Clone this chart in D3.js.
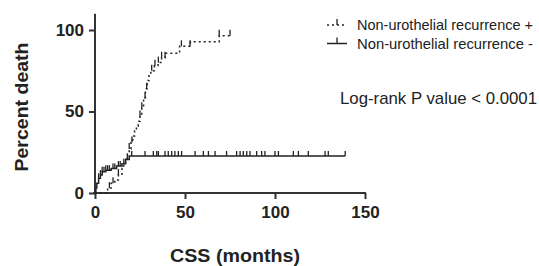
<!DOCTYPE html>
<html><head><meta charset="utf-8">
<script src="https://cdn.jsdelivr.net/npm/d3@7"></script>
<style>body{margin:0;background:#fff}svg{display:block}text{font-family:"Liberation Sans",Arial,sans-serif}</style>
</head><body><div id="c"></div>
<script>
// Series: step curves (time in months, percent death)
const posTimes  = [0, 7, 9, 11, 13, 15, 16, 17, 18, 19, 20, 21, 22, 23, 24, 25, 26, 27, 28, 29, 30, 31, 33, 35, 37, 39, 47, 53, 69];
const posPct    = [0, 3, 6, 8, 11, 15, 18, 21, 24, 27, 31, 35, 38, 41, 44, 47, 52, 58, 64, 69, 72, 75, 78, 80, 83, 85.7, 90, 92.8, 96.5];
const posEnd    = 75;
const posCensor = [8, 10, 13, 19, 20.5, 25, 26, 27.8, 28.7, 31.5, 33.3, 35.2, 37, 38.9, 48, 52.8, 69, 75];

const negTimes  = [0, 0.5, 1, 2, 3, 4, 6, 9, 12, 15, 17, 19];
const negPct    = [0, 3, 6, 9, 11, 13, 14, 15, 16.5, 18, 20.5, 22.7];
const negEnd    = 139;
const negCensor = [2, 3, 4, 5, 6, 7, 8, 10, 11, 13, 14, 16, 18, 20.4, 27.8, 32.4, 34.3, 35.2, 38.9, 40.7, 42.6, 44.4, 46.3, 48.1, 55.6, 60.2, 63, 66.7, 73.1, 78.7, 80.6, 82.4, 84.3, 86.1, 89.8, 92.6, 94.4, 100, 101.9, 110.2, 113, 118.5, 127.8, 129.6, 139];

const xTicks = [0, 50, 100, 150];
const yTicks = [0, 50, 100];
const legendLabels = ["Non-urothelial recurrence +", "Non-urothelial recurrence -"];
const annotation = "Log-rank P value < 0.0001";
const xTitle = "CSS (months)";
const yTitle = "Percent death";

const W = 539, H = 266;
const svg = d3.select("#c").append("svg").attr("width", W).attr("height", H);
const x = d3.scaleLinear().domain([0, 150]).range([95, 365]);
const y = d3.scaleLinear().domain([0, 100]).range([193, 30]);
const axisColor = "#333";

// axes
const gx = svg.append("g").attr("transform", `translate(0,${y(0)})`)
  .call(d3.axisBottom(x).tickValues(xTicks).tickSize(6).tickPadding(7).tickFormat(d3.format("d")));
const gy = svg.append("g").attr("transform", `translate(${x(0)},0)`)
  .call(d3.axisLeft(y).tickValues(yTicks).tickSize(6).tickPadding(5).tickFormat(d3.format("d")));
[gx, gy].forEach(g => {
  g.select(".domain").remove();
  g.selectAll("line").attr("stroke", axisColor).attr("stroke-width", 2);
  g.selectAll("text").attr("fill", "#222").attr("font-size", 17).attr("font-weight", "bold")
    .style("font-family", '"Liberation Sans",Arial,sans-serif');
});
svg.append("line").attr("x1", x(0) - 2).attr("x2", x(150) + 1).attr("y1", y(0)).attr("y2", y(0))
  .attr("stroke", axisColor).attr("stroke-width", 2);
svg.append("line").attr("x1", x(0)).attr("x2", x(0)).attr("y1", y(0) + 2).attr("y2", y(110))
  .attr("stroke", axisColor).attr("stroke-width", 2);

// titles
svg.append("text").attr("x", 235).attr("y", 262).attr("text-anchor", "middle")
  .attr("font-size", 19).attr("font-weight", "bold").attr("fill", "#222")
  .attr("textLength", 130).attr("lengthAdjust", "spacingAndGlyphs").text(xTitle);
svg.append("text").attr("transform", `translate(28,${107}) rotate(-90)`).attr("text-anchor", "middle")
  .attr("font-size", 19).attr("font-weight", "bold").attr("fill", "#222")
  .attr("textLength", 129).attr("lengthAdjust", "spacingAndGlyphs").text(yTitle);

function stepPath(times, pcts, end) {
  const pts = [];
  for (let i = 0; i < times.length; i++) {
    if (i > 0) pts.push([times[i], pcts[i - 1]]);
    pts.push([times[i], pcts[i]]);
  }
  pts.push([end, pcts[pcts.length - 1]]);
  return d3.line().x(d => x(d[0])).y(d => y(d[1]))(pts);
}
function levelAt(times, pcts, t) {
  let v = pcts[0];
  for (let i = 0; i < times.length; i++) if (times[i] <= t) v = pcts[i];
  return v;
}

const curveColor = "#222";
// negative (solid)
svg.append("path").attr("d", stepPath(negTimes, negPct, negEnd)).attr("fill", "none")
  .attr("stroke", curveColor).attr("stroke-width", 1.5);
svg.append("g").selectAll("line").data(negCensor).join("line")
  .attr("x1", d => x(d)).attr("x2", d => x(d))
  .attr("y1", d => y(levelAt(negTimes, negPct, d))).attr("y2", d => y(levelAt(negTimes, negPct, d)) - 5)
  .attr("stroke", curveColor).attr("stroke-width", 1.3);
// positive (dashed)
svg.append("path").attr("d", stepPath(posTimes, posPct, posEnd)).attr("fill", "none")
  .attr("stroke", curveColor).attr("stroke-width", 1.5).attr("stroke-dasharray", "2,3");
svg.append("g").selectAll("line").data(posCensor).join("line")
  .attr("x1", d => x(d)).attr("x2", d => x(d))
  .attr("y1", d => y(levelAt(posTimes, posPct, d))).attr("y2", d => y(levelAt(posTimes, posPct, d)) - 6)
  .attr("stroke", curveColor).attr("stroke-width", 1.3);

// legend
const lg = svg.append("g");
[0, 1].forEach(i => {
  const ly = 25 + i * 18.5;
  lg.append("line").attr("x1", 327).attr("x2", 347).attr("y1", ly).attr("y2", ly)
    .attr("stroke", curveColor).attr("stroke-width", 1.5).attr("stroke-dasharray", i === 0 ? "2,3" : null);
  lg.append("line").attr("x1", 337).attr("x2", 337).attr("y1", ly).attr("y2", ly - 6)
    .attr("stroke", curveColor).attr("stroke-width", 1.3);
  lg.append("text").attr("x", 357).attr("y", ly + 5).attr("font-size", 14.5).attr("fill", "#222")
    .attr("textLength", 176).attr("lengthAdjust", "spacingAndGlyphs").text(legendLabels[i]);
});
svg.append("text").attr("x", 340).attr("y", 104).attr("font-size", 17).attr("fill", "#222")
  .attr("textLength", 197).attr("lengthAdjust", "spacingAndGlyphs").text(annotation);
</script></body></html>
